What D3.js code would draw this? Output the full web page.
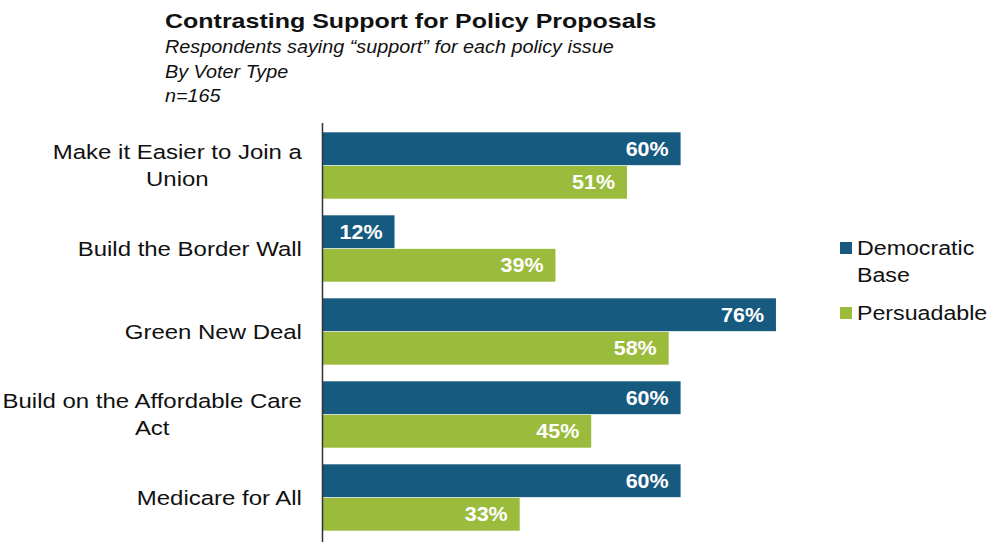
<!DOCTYPE html>
<html>
<head>
<meta charset="utf-8">
<script src="https://cdn.jsdelivr.net/npm/d3@7"></script>
<style>
  body { margin: 0; background: #fff; }
  svg { font-family: "Liberation Sans", Arial, sans-serif; }
</style>
</head>
<body>
<svg id="chart" width="992" height="542"></svg>
<script>
// data
var categories = [
  ["Make it Easier to Join a", "Union"],
  ["Build the Border Wall"],
  ["Green New Deal"],
  ["Build on the Affordable Care", "Act"],
  ["Medicare for All"]
];
var seriesNames = ["Democratic Base", "Persuadable"];
var democraticBase = [60, 12, 76, 60, 60];
var persuadable = [51, 39, 58, 45, 33];
var colors = ["#175a80", "#9bbb3c"];

var svg = d3.select("#chart");

// the source picture is a bit stretched sideways, so text gets a horizontal scale
function stretchText(sel, x, y, sx) {
  return sel.attr("transform", `translate(${x},${y}) scale(${sx},1)`);
}

// title block
stretchText(svg.append("text"), 165, 28, 1.19)
  .attr("font-size", 21).attr("font-weight", "bold").attr("fill", "#111")
  .text("Contrasting Support for Policy Proposals");

var subLines = ["Respondents saying \u201csupport\u201d for each policy issue", "By Voter Type", "n=165"];
subLines.forEach(function(s, i) {
  stretchText(svg.append("text"), 165, 53 + i * 24.5, 1.1)
    .attr("font-size", 18).attr("font-style", "italic").attr("fill", "#111")
    .text(s);
});

// scales
var x = d3.scaleLinear().domain([0, 100]).range([323, 919]);
var y = d3.scaleBand()
  .domain(d3.range(categories.length))
  .range([124, 539])
  .paddingInner(0.2)
  .paddingOuter(0.1);
var ySub = d3.scaleBand()
  .domain([0, 1])
  .range([0, y.bandwidth()])
  .paddingInner(0.02);

var rows = categories.map((c, i) => ({
  label: c,
  values: [democraticBase[i], persuadable[i]]
}));

var groups = svg.selectAll(".grp")
  .data(rows)
  .enter()
  .append("g")
  .attr("class", "grp")
  .attr("transform", (d, i) => `translate(0, ${y(i)})`);

var bars = groups.selectAll(".bar")
  .data(d => d.values.map((v, j) => ({ v: v, j: j })))
  .enter()
  .append("g")
  .attr("class", "bar");

bars.append("rect")
  .attr("x", x(0))
  .attr("y", d => ySub(d.j))
  .attr("width", d => x(d.v) - x(0))
  .attr("height", ySub.bandwidth())
  .attr("fill", d => colors[d.j]);

bars.append("text")
  .attr("transform", d => `translate(${x(d.v) - 12},${ySub(d.j) + ySub.bandwidth() / 2}) scale(1.1,1)`)
  .attr("dy", "0.36em")
  .attr("text-anchor", "end")
  .attr("font-size", 19.5).attr("font-weight", "bold").attr("fill", "#fff")
  .text(d => d.v + "%");

// category labels (centered block, right edge at 302)
var labelSx = 1.17;
groups.each(function(d) {
  var g = d3.select(this);
  var t = g.append("text")
    .attr("font-size", 20.5).attr("fill", "#111")
    .attr("text-anchor", "middle");
  var n = d.label.length;
  d.label.forEach(function(line, k) {
    t.append("tspan")
      .attr("x", 0)
      .attr("y", (k - (n - 1) / 2) * 27)
      .attr("dy", "0.35em")
      .text(line);
  });
  var maxW = d3.max(t.selectAll("tspan").nodes(), nd => nd.getComputedTextLength()) * labelSx;
  stretchText(t, 302 - maxW / 2, y.bandwidth() / 2, labelSx);
});

// axis line
svg.append("line")
  .attr("x1", 322.5).attr("x2", 322.5)
  .attr("y1", 123).attr("y2", 542)
  .attr("stroke", "#333").attr("stroke-width", 1.5);

// legend
var legendItems = [
  { lines: ["Democratic", "Base"], color: colors[0], y: 242 },
  { lines: ["Persuadable"], color: colors[1], y: 307 }
];
var leg = svg.selectAll(".leg")
  .data(legendItems)
  .enter()
  .append("g")
  .attr("class", "leg")
  .attr("transform", d => `translate(840, ${d.y})`);

leg.append("rect")
  .attr("width", 12).attr("height", 12)
  .attr("fill", d => d.color);

leg.each(function(d) {
  var g = d3.select(this);
  d.lines.forEach(function(line, k) {
    stretchText(g.append("text"), 17, 13 + k * 27, 1.19)
      .attr("font-size", 19.5).attr("fill", "#111")
      .text(line);
  });
});
</script>
</body>
</html>
